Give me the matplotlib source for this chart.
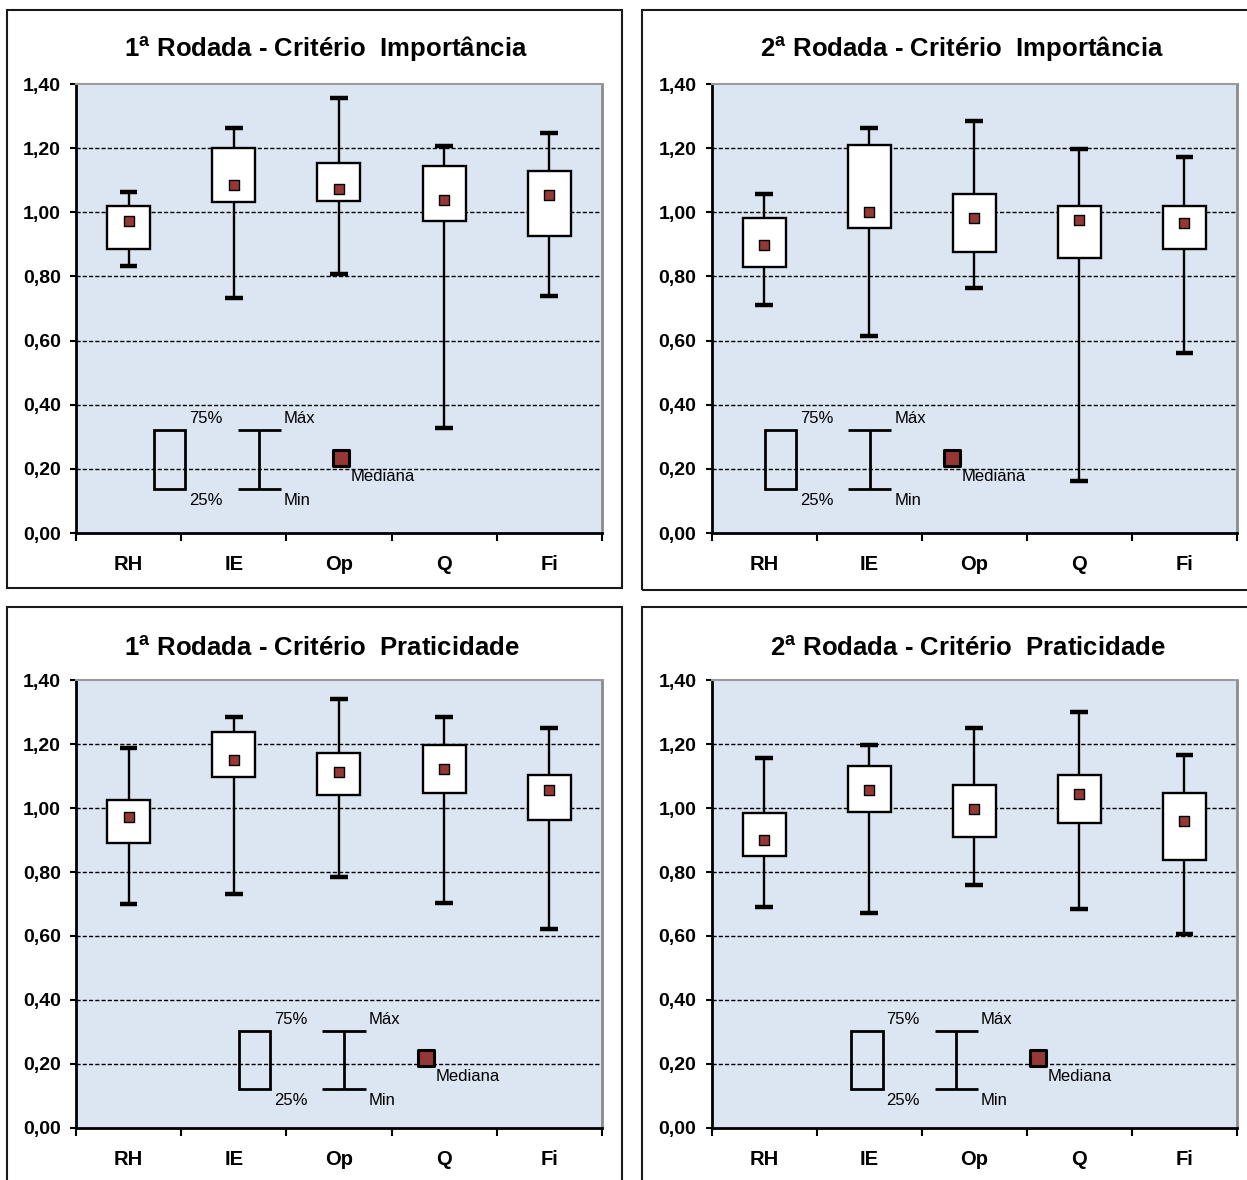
import numpy as np
import matplotlib
matplotlib.use("Agg")
import matplotlib.pyplot as plt
from matplotlib.patches import Rectangle

plt.rcParams["font.family"] = ["Liberation Sans", "DejaVu Sans"]
plt.rcParams["mathtext.fontset"] = "custom"
plt.rcParams["mathtext.bf"] = "Liberation Sans:bold"
plt.rcParams["mathtext.rm"] = "Liberation Sans"

categories = ["RH", "IE", "Op", "Q", "Fi"]
y_ticks = [0.0, 0.2, 0.4, 0.6, 0.8, 1.0, 1.2, 1.4]
y_labels = ["0,00", "0,20", "0,40", "0,60", "0,80", "1,00", "1,20", "1,40"]

titles = [
    r"1$^{\mathbf{a}}$ Rodada - Critério  Importância",
    r"2$^{\mathbf{a}}$ Rodada - Critério  Importância",
    r"1$^{\mathbf{a}}$ Rodada - Critério  Praticidade",
    r"2$^{\mathbf{a}}$ Rodada - Critério  Praticidade",
]

# 1a rodada - importancia
imp1_min = [0.834, 0.734, 0.807, 0.328, 0.739]
imp1_q1 = [0.886, 1.031, 1.035, 0.973, 0.927]
imp1_med = [0.973, 1.084, 1.072, 1.038, 1.054]
imp1_q3 = [1.020, 1.201, 1.153, 1.145, 1.128]
imp1_max = [1.062, 1.263, 1.356, 1.207, 1.246]

# 2a rodada - importancia
imp2_min = [0.712, 0.614, 0.764, 0.163, 0.562]
imp2_q1 = [0.828, 0.952, 0.876, 0.859, 0.886]
imp2_med = [0.898, 1.002, 0.983, 0.976, 0.966]
imp2_q3 = [0.983, 1.210, 1.056, 1.020, 1.020]
imp2_max = [1.056, 1.263, 1.284, 1.197, 1.171]

# 1a rodada - praticidade
pra1_min = [0.701, 0.730, 0.783, 0.704, 0.621]
pra1_q1 = [0.891, 1.098, 1.042, 1.047, 0.961]
pra1_med = [0.972, 1.150, 1.112, 1.121, 1.055]
pra1_q3 = [1.026, 1.237, 1.171, 1.197, 1.104]
pra1_max = [1.187, 1.285, 1.342, 1.283, 1.249]

# 2a rodada - praticidade
pra2_min = [0.692, 0.672, 0.759, 0.683, 0.605]
pra2_q1 = [0.851, 0.987, 0.909, 0.954, 0.836]
pra2_med = [0.900, 1.055, 0.998, 1.045, 0.959]
pra2_q3 = [0.984, 1.130, 1.073, 1.104, 1.047]
pra2_max = [1.155, 1.197, 1.251, 1.301, 1.166]

# legenda desenhada dentro de cada grafico (q25, q75, mediana)
legend_x = [0.741, 0.506, 1.548, 1.327]
legend_top_row = (0.138, 0.321, 0.234)
legend_bottom_row = (0.123, 0.303, 0.218)

BG = "#DCE6F2"
MED = "#953735"


def draw_panel(ax, mins, q1s, meds, q3s, maxs, lx, lrow):
    x = np.arange(len(categories)) + 0.5
    ax.set_facecolor(BG)
    ax.set_xlim(0, len(categories))
    ax.set_ylim(y_ticks[0], y_ticks[-1])

    ax.hlines(y_ticks[1:-1], 0, len(categories), colors="black",
              linewidth=1, linestyles=(0, (3, 1.5)), zorder=1)

    ax.vlines(x, mins, maxs, colors="black", linewidth=1.7, zorder=2)
    ax.hlines(mins, x - 0.085, x + 0.085, colors="black", linewidth=3.2, zorder=2)
    ax.hlines(maxs, x - 0.085, x + 0.085, colors="black", linewidth=3.2, zorder=2)
    ax.bar(x, np.array(q3s) - np.array(q1s), bottom=q1s, width=0.41,
           color="white", edgecolor="black", linewidth=1.7, zorder=3)
    ax.scatter(x, meds, marker="s", s=52, color=MED, edgecolors="black",
               linewidths=1, zorder=4)

    # legenda
    y25, y75, ym = lrow
    ax.add_patch(Rectangle((lx, y25), 0.30, y75 - y25, fill=False,
                           edgecolor="black", linewidth=2, zorder=3))
    wx = lx + 1.0
    ax.vlines(wx, y25, y75, colors="black", linewidth=2, zorder=3)
    ax.hlines([y25, y75], wx - 0.205, wx + 0.205, colors="black",
              linewidth=2, zorder=3)
    ax.scatter([lx + 1.78], [ym], marker="s", s=120, color=MED,
               edgecolors="black", linewidths=2.2, zorder=4)
    fs = 12
    ax.text(lx + 0.333, y75 + 0.037, "75%", fontsize=fs, ha="left", va="center")
    ax.text(lx + 0.333, y25 - 0.037, "25%", fontsize=fs, ha="left", va="center")
    ax.text(lx + 1.236, y75 + 0.037, "Máx", fontsize=fs, ha="left", va="center")
    ax.text(lx + 1.236, y25 - 0.037, "Min", fontsize=fs, ha="left", va="center")
    ax.text(lx + 1.873, ym - 0.058, "Mediana", fontsize=fs, ha="left", va="center")

    ax.set_yticks(y_ticks)
    ax.set_yticklabels(y_labels, fontsize=14, fontweight="bold")
    ax.tick_params(axis="y", length=4, width=1.5, pad=7)

    ax.set_xticks(np.arange(len(categories) + 1))
    ax.set_xticklabels([])
    ax.set_xticks(x, minor=True)
    ax.set_xticklabels(categories, minor=True, fontsize=14.5, fontweight="bold")
    ax.tick_params(axis="x", which="major", length=6, width=1.5)
    ax.tick_params(axis="x", which="minor", length=0, pad=16)

    ax.spines["left"].set_linewidth(2)
    ax.spines["bottom"].set_linewidth(2)
    ax.spines["right"].set_color("#8c8c8c")
    ax.spines["right"].set_linewidth(2)
    ax.spines["top"].set_color("#9a9a9a")
    ax.spines["top"].set_linewidth(1.5)
    ax.spines["top"].set_linestyle((0, (2, 1)))


fig = plt.figure(figsize=(12.47, 11.80), dpi=100)

axes_pos = [
    [0.0609, 0.5483, 0.4218, 0.3805],
    [0.5706, 0.5483, 0.4214, 0.3805],
    [0.0609, 0.0441, 0.4218, 0.3796],
    [0.5706, 0.0441, 0.4214, 0.3796],
]
frames = [
    (0.0056, 0.5017, 0.4932, 0.4898),
    (0.5148, 0.5000, 0.5000, 0.4915),
    (0.0056, -0.02, 0.4932, 0.5056),
    (0.5148, -0.02, 0.5000, 0.5056),
]
title_pos = [(0.261, 0.958), (0.7716, 0.958), (0.258, 0.4505), (0.776, 0.4505)]

data = [
    (imp1_min, imp1_q1, imp1_med, imp1_q3, imp1_max),
    (imp2_min, imp2_q1, imp2_med, imp2_q3, imp2_max),
    (pra1_min, pra1_q1, pra1_med, pra1_q3, pra1_max),
    (pra2_min, pra2_q1, pra2_med, pra2_q3, pra2_max),
]
rows = [legend_top_row, legend_top_row, legend_bottom_row, legend_bottom_row]

for i in range(4):
    fx, fy, fw, fh = frames[i]
    fig.add_artist(Rectangle((fx, fy), fw, fh, transform=fig.transFigure,
                             fill=False, edgecolor="#1a1a1a", linewidth=1.5))
    ax = fig.add_axes(axes_pos[i])
    draw_panel(ax, *data[i], legend_x[i], rows[i])
    fig.text(title_pos[i][0], title_pos[i][1], titles[i], fontsize=18.5,
             fontweight="bold", ha="center", va="center")

fig.savefig("out.png", dpi=100, facecolor="white")
